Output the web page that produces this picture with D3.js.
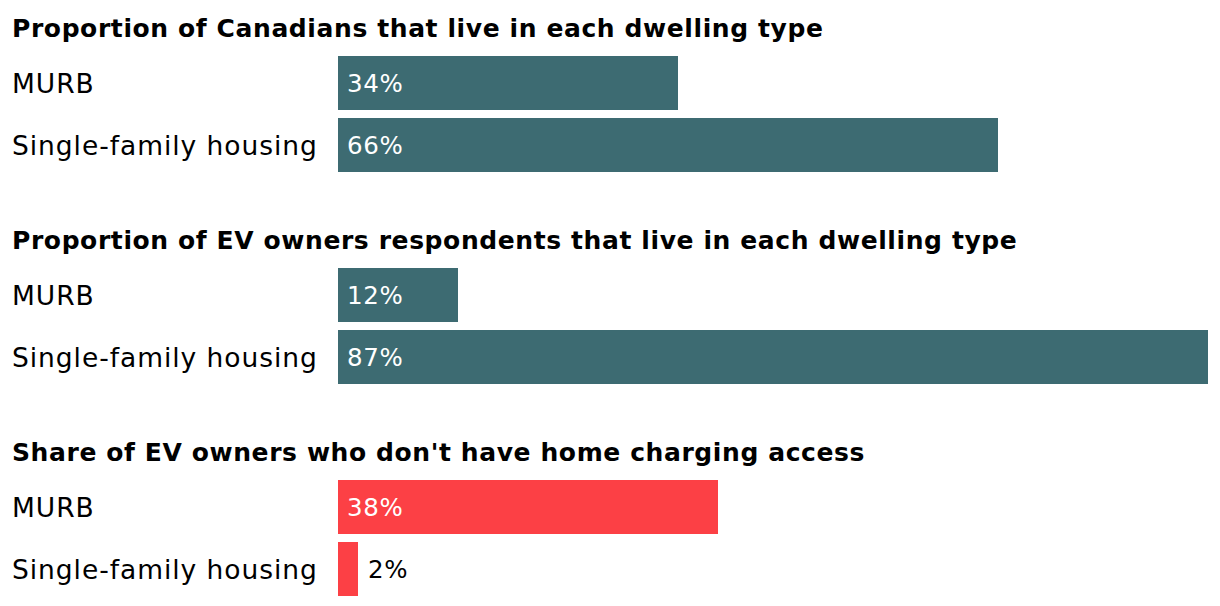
<!DOCTYPE html>
<html><head><meta charset="utf-8">
<script src="https://cdn.jsdelivr.net/npm/d3@7"></script>
<style>
html,body{margin:0;padding:0;background:#fff;}
svg{display:block;}
text{font-family:"DejaVu Sans",sans-serif;}
</style></head>
<body>
<svg id="chart" width="1220" height="606"></svg>
<script>
const titles = [
  "Proportion of Canadians that live in each dwelling type",
  "Proportion of EV owners respondents that live in each dwelling type",
  "Share of EV owners who don't have home charging access"
];
const categories = ["MURB", "Single-family housing"];
const canadiansValues = [34, 66];
const evOwnersValues = [12, 87];
const noChargingValues = [38, 2];
const seriesValues = [canadiansValues, evOwnersValues, noChargingValues];
const groupColors = ["#3d6b72", "#3d6b72", "#fc4045"];

const svg = d3.select("#chart");
const x = d3.scaleLinear().domain([0, 100]).range([338, 1338]);
const gy = d3.scaleBand().domain(titles).range([0, 636]);
const y = d3.scaleBand().domain(categories).range([56, 172]).paddingInner(8/62).paddingOuter(0);

const groups = svg.selectAll("g.grp").data(titles).join("g")
  .attr("class", "grp")
  .attr("transform", d => `translate(0,${gy(d)})`);

groups.append("text")
  .attr("x", 12).attr("y", 37)
  .attr("font-size", 25).attr("font-weight", "bold").attr("fill", "#000")
  .attr("letter-spacing", 0.6)
  .text(d => d);

groups.each(function(t, gi) {
  const g = d3.select(this);
  const rows = categories.map((c, i) => ({c, v: seriesValues[gi][i]}));
  g.selectAll("text.cat").data(rows).join("text")
    .attr("class", "cat")
    .attr("x", 12)
    .attr("y", d => y(d.c) + y.bandwidth()/2)
    .attr("dy", "0.36em")
    .attr("font-size", 26.5).attr("fill", "#000")
    .attr("letter-spacing", 0.95)
    .text(d => d.c);
  g.selectAll("rect").data(rows).join("rect")
    .attr("x", x(0))
    .attr("y", d => y(d.c))
    .attr("width", d => x(d.v) - x(0))
    .attr("height", y.bandwidth())
    .attr("fill", groupColors[gi]);
  g.selectAll("text.val").data(rows).join("text")
    .attr("class", "val")
    .attr("x", d => d.v >= 5 ? x(0) + 9 : x(d.v) + 10)
    .attr("y", d => y(d.c) + y.bandwidth()/2)
    .attr("dy", "0.36em")
    .attr("font-size", 24.5)
    .attr("letter-spacing", 0.7)
    .attr("fill", d => d.v >= 5 ? "#fff" : "#000")
    .text(d => d.v + "%");
});
</script>
</body></html>
